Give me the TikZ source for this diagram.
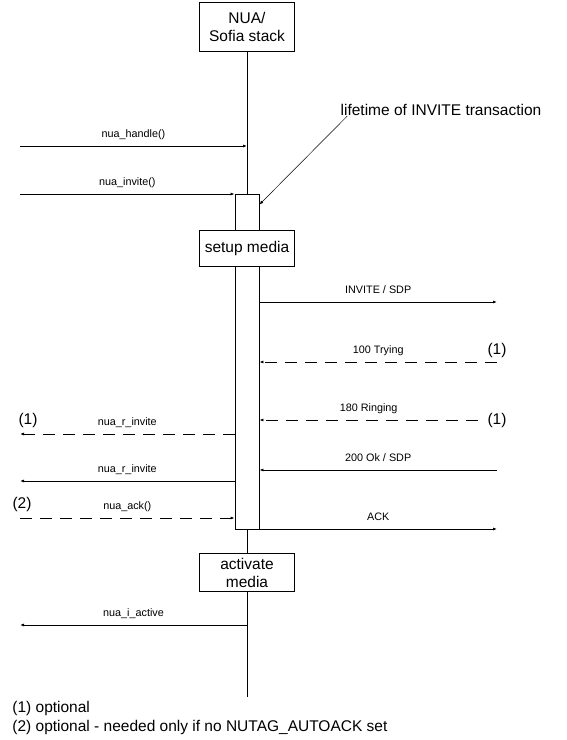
\documentclass[tikz,border=0pt]{standalone}
\usepackage{fontspec}
\setmainfont{Liberation Sans}
\usetikzlibrary{arrows.meta,positioning}
\tikzset{
  >={Latex[length=4pt,width=3pt]},
  every picture/.style={line width=0.8pt},
  box/.style={draw, fill=white, minimum width=95pt, align=center, inner sep=0pt, font=\fontsize{15.5}{18}\selectfont},
  actbox/.style={draw, fill=white, minimum width=24pt, minimum height=335pt, inner sep=0pt},
  msg/.style={midway, above=6pt, inner sep=0pt, text height=8pt, text depth=2pt, font=\fontsize{10.8}{12}\selectfont},
  call/.style={->},
  reply/.style={->, dash pattern=on 12pt off 8pt},
  note/.style={inner sep=0pt, font=\fontsize{15.5}{18}\selectfont}
}

\begin{document}
\begin{tikzpicture}[x=1pt, y=-1pt]
  \def\xl{20}
  \def\xr{497}
  \useasboundingbox (0,0) rectangle (566,740);

  \node[box, minimum height=49pt] (nua) at (247,26.5) {NUA/\\Sofia stack};
  \node[actbox] (txn) at (247,361.5) {};
  \node[box, minimum height=36pt] (setup) at (247,248) {setup media};
  \node[box, minimum height=38pt] (activate) at (247,572.5) {activate\\media};
  \coordinate (end) at (247,697);

  \draw (nua) -- (txn);
  \draw (txn) -- (activate);
  \draw (activate) -- (end);

  \node[note] (life) at (441,110) {lifetime of INVITE transaction};
  \draw[->, line width=0.5pt] ([xshift=7pt]life.south west) -- ([yshift=-11pt]txn.north east);

  \coordinate (hdl) at (\xl,146);
  \draw[call] (hdl) -- node[msg] (hdlL) {nua\_handle()} (hdl -| nua.south);
  \coordinate (inv) at (\xl,194);
  \draw[call] (inv) -- node[msg] (invL) {nua\_invite()} (inv -| txn.west);

  \coordinate (sdp) at (\xr,302);
  \draw[call] (sdp -| txn.east) -- node[msg] (sdpL) {INVITE / SDP} (sdp);
  \coordinate (try) at (\xr,362);
  \draw[reply] (try) -- node[msg] (tryL) {100 Trying} (try -| txn.east);
  \node[note] (tryN) at (\xr,350) {(1)};
  \coordinate (ring) at (478,420);
  \draw[reply] (ring) -- node[msg] (ringL) {180 Ringing} (ring -| txn.east);
  \node[note] (ringN) at (\xr,420) {(1)};
  \coordinate (ok) at (\xr,470);
  \draw[call] (ok) -- node[msg] (okL) {200 Ok / SDP} (ok -| txn.east);
  \coordinate (ack) at (\xr,529);
  \draw[call] (ack -| txn.east) -- node[msg] (ackL) {ACK} (ack);

  \coordinate (rinv1) at (\xl,434);
  \draw[reply] (rinv1 -| txn.west) -- node[msg] (rinv1L) {nua\_r\_invite} (rinv1);
  \node[note] (rinv1N) at (28,420) {(1)};
  \coordinate (rinv2) at (\xl,481);
  \draw[call] (rinv2 -| txn.west) -- node[msg] (rinv2L) {nua\_r\_invite} (rinv2);
  \coordinate (uack) at (\xl,518);
  \draw[reply] (uack) -- node[msg] (uackL) {nua\_ack()} (uack -| txn.west);
  \node[note] (uackN) at (22,504) {(2)};
  \coordinate (act) at (\xl,625);
  \draw[call] (act -| activate.south) -- node[msg] (actL) {nua\_i\_active} (act);

  \node[note, anchor=west] (fn1) at (12,708) {(1) optional};
  \node[note, anchor=west] (fn2) at (12,727) {(2) optional - needed only if no NUTAG\_AUTOACK set};
\end{tikzpicture}
\end{document}
